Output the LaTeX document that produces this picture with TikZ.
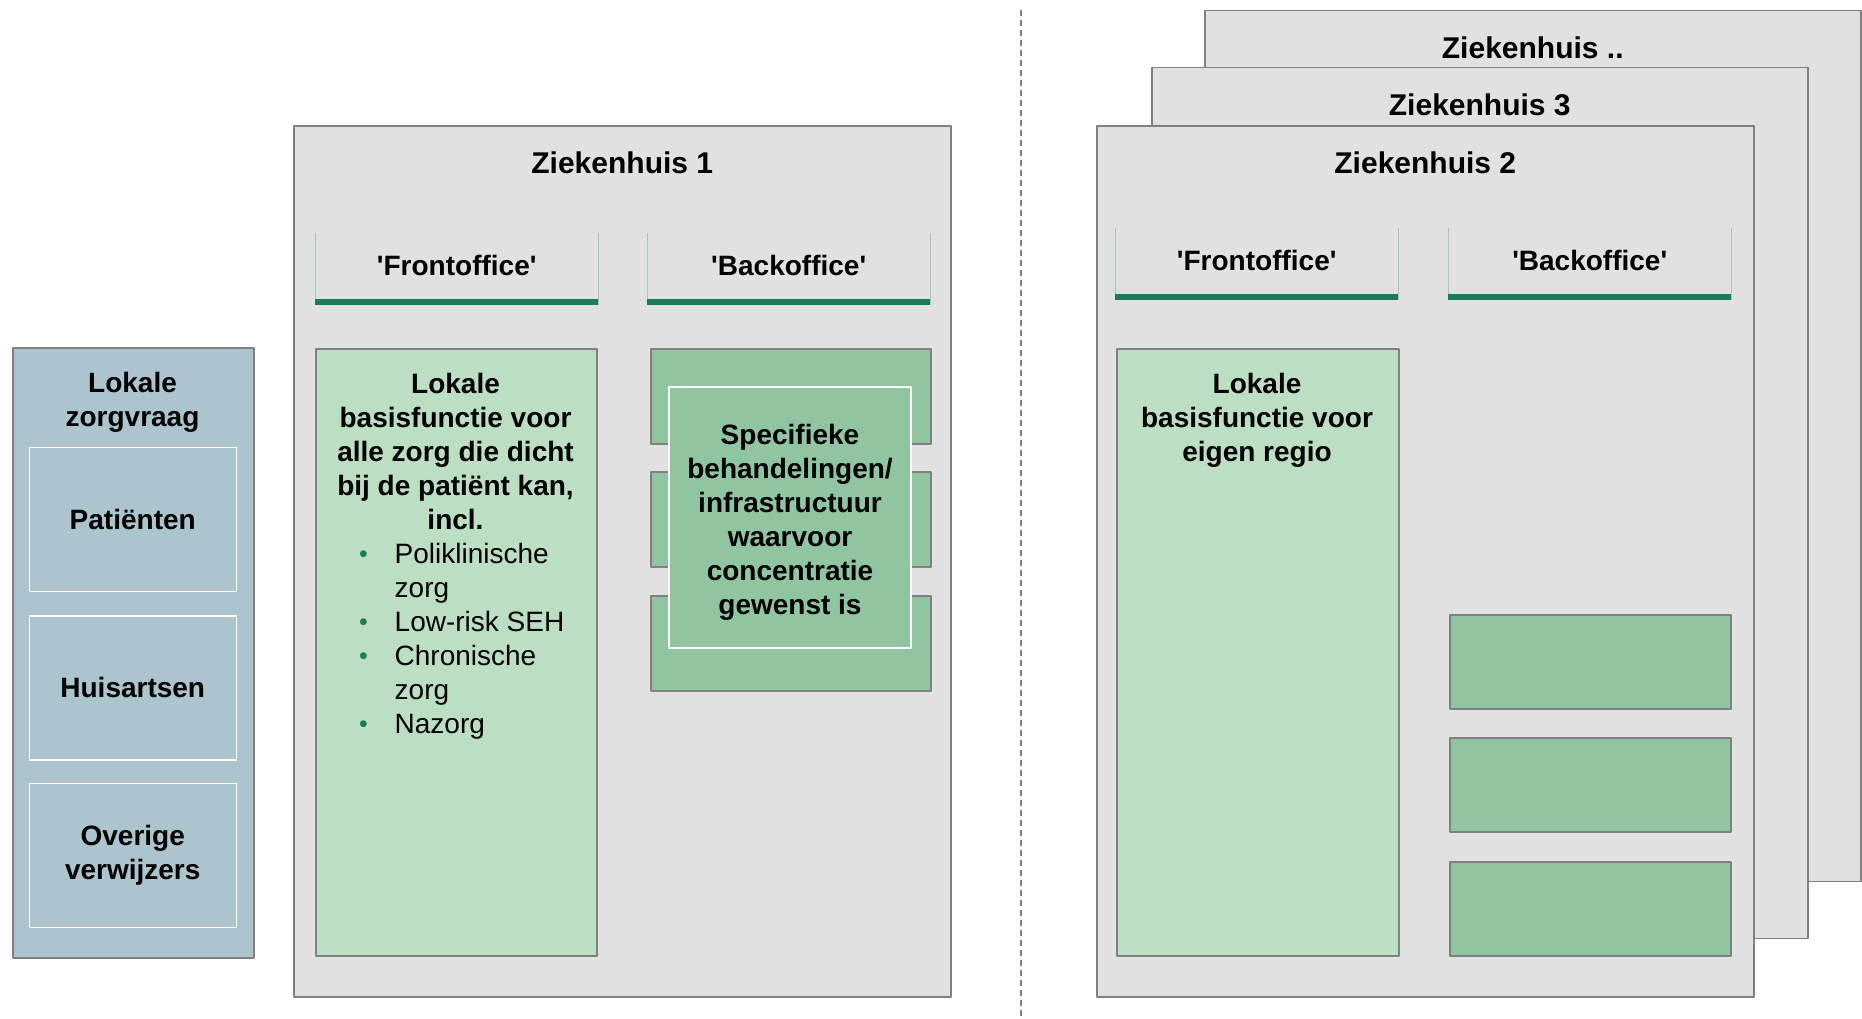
\documentclass[tikz,border=0pt]{standalone}
\usepackage{fontspec}
\setmainfont{Liberation Sans}
\definecolor{rand}{HTML}{808080}
\definecolor{grijs}{HTML}{E1E1E1}
\definecolor{blauwgrijs}{HTML}{ABC4CE}
\definecolor{lichtgroen}{HTML}{BCDFC3}
\definecolor{middengroen}{HTML}{8FC6A1}
\definecolor{donkergroen}{HTML}{1C7A57}
\definecolor{zijgroen}{HTML}{9CC9B0}
\newcommand{\basis}{\fontsize{28}{34}\selectfont}
\newcommand{\opsom}{\makebox[35.5pt][l]{\raisebox{1.5pt}{\textcolor{donkergroen}{\fontsize{25}{25}\selectfont\textbullet}}}}
\newcommand{\inspring}{\hspace*{35.5pt}}
\begin{document}
\begin{tikzpicture}[x=1pt, y=-1pt, line join=round, font=\basis,
		vak/.style={draw=rand, line width=1.5pt, anchor=north west, inner sep=0},
		zh/.style={vak, fill=grijs, minimum width=657, minimum height=871},
		titel/.style={font=\fontsize{30}{34}\selectfont\bfseries, inner sep=0},
		kop/.style={anchor=north west, minimum width=283, minimum height=72, inner sep=0, text depth=8pt, font=\basis\bfseries},
		zijlijn/.style={draw=zijgroen, line width=0.8pt},
		balk/.style={draw=donkergroen, line width=6pt},
		lokaal/.style={vak, fill=lichtgroen, minimum width=281, minimum height=607},
		blok/.style={vak, fill=middengroen, minimum width=280, minimum height=94},
		tekst/.style={font=\basis\bfseries, align=center, inner sep=0},
		vraag/.style={draw=white, line width=1.5pt, fill=blauwgrijs, minimum width=207, minimum height=144, anchor=north west, inner sep=0, align=center, font=\basis\bfseries},
		scheiding/.style={draw=rand, line width=1.5pt, dash pattern=on 6pt off 4pt}]
	\useasboundingbox (0,0) rectangle (1862,1018);

	% lokale zorgvraag
	\node[vak, fill=blauwgrijs, minimum width=241, minimum height=610] (paneel) at (12,347) {};
	\node[tekst] (paneelt) at (132.5,402) {Lokale\\zorgvraag};
	\node[vraag] (pat) at (28.5,446.5) {Patiënten};
	\node[vraag] (huis) at (28.5,615) {Huisartsen};
	\node[vraag] (overig) at (28.5,782.5) {Overige\\verwijzers};

	% scheidingslijn
	\coordinate (lijnboven) at (1021,10);
	\coordinate (lijnonder) at (1021,1018);
	\draw[scheiding] (lijnboven) -- (lijnonder);

	% ziekenhuis 1
	\node[zh] (zh1) at (293,125) {};
	\node[titel] (zh1t) at (zh1.north |- 0,163) {Ziekenhuis 1};
	\node[kop] (fo1) at (315,233) {\textquotesingle Frontoffice\textquotesingle};
	\node[kop] (bo1) at (647,233) {\textquotesingle Backoffice\textquotesingle};
	\node[lokaal] (lok1) at (315,348) {};
	\node[tekst] (lok1t) at (455.5,451) {Lokale\\basisfunctie voor\\alle zorg die dicht\\bij de patiënt kan,\\incl.};
	\node[anchor=north west, inner sep=0, align=left] (lok1l) at (359,543) {\opsom Poliklinische\\\inspring zorg\\\opsom Low-risk SEH\\\opsom Chronische\\\inspring zorg\\\opsom Nazorg};
	\foreach \y/\n in {348/a,471/b,595/c}
		\node[blok, minimum height=95] (bo1\n) at (650,\y) {};
	\node[draw=white, line width=2pt, fill=middengroen, minimum width=242, minimum height=261, inner sep=0] (conc) at (790,517.5) {};
	\node[tekst] (conct) at (790,522) {Specifieke\\behandelingen/\\infrastructuur\\waarvoor\\concentratie\\gewenst is};

	% ziekenhuis .., 3 en 2
	\node[zh, minimum width=656] (zhd) at (1204,9.5) {};
	\node[titel] (zhdt) at (zhd.north |- 0,47.5) {Ziekenhuis ..};
	\node[zh, minimum width=656] (zh3) at (1151,66.5) {};
	\node[titel] (zh3t) at (zh3.north |- 0,104.5) {Ziekenhuis 3};
	\node[zh] (zh2) at (1096,125) {};
	\node[titel] (zh2t) at (zh2.north |- 0,163) {Ziekenhuis 2};
	\node[kop] (fo2) at (1115,228) {\textquotesingle Frontoffice\textquotesingle};
	\node[kop] (bo2) at (1448,228) {\textquotesingle Backoffice\textquotesingle};
	\node[lokaal, minimum width=282] (lok2) at (1116,348) {};
	\node[tekst] (lok2t) at (1257,420.5) {Lokale\\basisfunctie voor\\eigen regio};
	\foreach \y/\n in {614/a,737/b,861/c}
		\node[blok, minimum width=281] (bo2\n) at (1449,\y) {};

	% koppen
	\foreach \k in {fo1,bo1,fo2,bo2} {
		\draw[zijlijn] (\k.north west) -- (\k.south west) (\k.north east) -- (\k.south east);
		\draw[balk] ([yshift=3pt]\k.south west) -- ([yshift=3pt]\k.south east);
	}
\end{tikzpicture}
\end{document}
